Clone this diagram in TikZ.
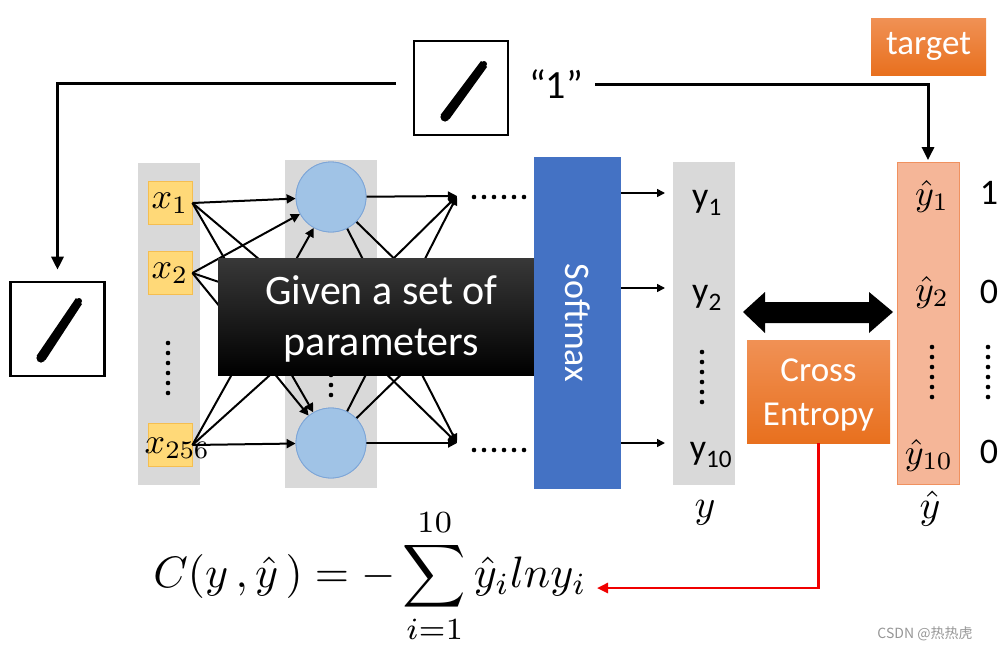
\documentclass[tikz,border=0pt]{standalone}
\usepackage{fontspec}
\setmainfont{Carlito}
\newfontfamily\cjkfont{Noto Sans CJK SC}
\usetikzlibrary{arrows.meta}
\definecolor{colgray}{RGB}{217,217,217}
\definecolor{xyellow}{RGB}{255,217,120}
\definecolor{xborder}{RGB}{245,190,80}
\definecolor{neublue}{RGB}{160,195,230}
\definecolor{neuedge}{RGB}{125,165,215}
\definecolor{smblue}{RGB}{68,114,196}
\definecolor{orgtop}{RGB}{240,145,85}
\definecolor{orgbot}{RGB}{232,112,30}
\definecolor{peach}{RGB}{245,182,152}
\definecolor{peachedge}{RGB}{240,145,95}
\definecolor{redline}{RGB}{240,0,0}
\definecolor{wmgray}{RGB}{150,150,150}
\begin{document}
\begin{tikzpicture}[x=1pt,y=-1pt,
  colbox/.style={fill=colgray, draw=none, inner sep=0, minimum width=62pt},
  xbox/.style={fill=xyellow, draw=xborder, line width=0.8pt, minimum width=44pt, minimum height=43pt, inner sep=0},
  neuron/.style={circle, fill=neublue, draw=neuedge, line width=0.8pt, minimum size=70pt, inner sep=0},
  net/.style={line width=2pt, -{Triangle[length=9pt,width=9pt]}},
  conn/.style={line width=3pt, -{Triangle[length=13pt,width=12pt]}},
  thinarr/.style={line width=1.6pt, -{Triangle[length=8pt,width=8pt]}},
  imgbox/.style={draw=black, line width=2.6pt, fill=white, minimum width=94pt, minimum height=94pt, inner sep=0},
  orgbox/.style={top color=orgtop, bottom color=orgbot, draw=none, inner sep=0},
  wtxt/.style={text=white, inner sep=0, align=center},
  math/.style={inner sep=0, scale=3.6},
  sans/.style={inner sep=0, font=\fontsize{36}{40}\selectfont}
]
\useasboundingbox (0,0) rectangle (1006,651);

% digit images
\node[imgbox] (img1) at (461,88) {};
\fill (484,64) circle (3pt) (445,117) circle (4.6pt);
\fill (481,61) -- (487,67) -- (449.5,119) -- (440.5,115) -- cycle;
\node[imgbox] (img2) at (57.5,329) {};
\fill (79,301) circle (3pt) (41,358) circle (4.6pt);
\fill (76,298) -- (82,304) -- (45.5,360) -- (36.5,356) -- cycle;
\draw[conn, shorten <=17pt, shorten >=11pt] ([yshift=5pt]img1.west) -- ([yshift=5pt]img1.west -| img2.north) -- (img2.north);

% target
\node[orgbox, minimum width=115pt, minimum height=57pt] (target) at (928.5,46.5) {};
\node[wtxt, font=\fontsize{35}{38}\selectfont] (targett) at (target) {target};
\node[sans, font=\fontsize{40}{44}\selectfont] (one) at (556,84) {“1”};

% columns
\node[colbox, minimum height=322pt] (incol) at (169,324) {};
\node[colbox, minimum width=92pt, minimum height=328pt] (hidcol) at (331,324) {};
\node[colbox, minimum height=323pt] (ycol) at (704,323.5) {};
\node[fill=peach, draw=peachedge, line width=0.8pt, inner sep=0, minimum width=62pt, minimum height=322pt] (yhat) at (928,323.5) {};

\draw[conn, shorten <=12pt, shorten >=2pt] (one.east) -- (one.east -| yhat.north) -- (yhat.north);

% input boxes
\node[xbox] (x1) at (170,203) {};
\node[math] at (x1) {$x_1$};
\node[xbox] (x2) at (170,273) {};
\node[math] at (x2) {$x_2$};
\node[xbox] (x3) at (170,445) {};
\node[math, anchor=west] at (144,448) {$x_{256}$};

% hidden
\coordinate (h2) at (331,320);
\coordinate (o1) at (457,196);
\coordinate (o2) at (457,320);
\coordinate (o3) at (457,443);
\node[neuron] (h1) at (331,197) {};
\node[neuron] (h3) at (331,443) {};
\foreach \i in {x1,x2,x3}{
  \foreach \j in {h1,h2,h3}{
    \draw[net] (\i.east) -- (\j);
  }
}
\foreach \j in {h1,h2,h3}{
  \foreach \k in {o1,o2,o3}{
    \draw[net] (\j) -- (\k);
  }
}
\node[neuron] at (h1) {};
\node[neuron] at (h3) {};

% dots
\foreach \d in {0,...,5}{
  \fill (168,343+10*\d) circle (2.3pt);
  \fill (331,345+10*\d) circle (2.3pt);
  \fill (474+10*\d,197) circle (2.3pt);
  \fill (474+10*\d,450) circle (2.3pt);
  \fill (702,352+10*\d) circle (2.3pt);
  \fill (932,347+10*\d) circle (2.3pt);
  \fill (988,347+10*\d) circle (2.3pt);
}

% black box
\node[top color=black!78, bottom color=black, inner sep=0, minimum width=327pt, minimum height=117pt] (given) at (381.5,316.5) {};
\node[wtxt, font=\fontsize{42}{51}\selectfont] at ([yshift=-2pt]given.center) {Given a set of\\parameters};

% softmax
\node[fill=smblue, inner sep=0, minimum width=87pt, minimum height=332pt] (sm) at (577.5,323) {};
\node[wtxt, rotate=-90, font=\fontsize{36}{38}\selectfont] at (sm) {Softmax};
\coordinate (ya1) at (665,193);
\coordinate (ya2) at (665,288);
\coordinate (ya3) at (665,443);
\draw[thinarr] (sm.east |- ya1) -- (ya1);
\draw[thinarr] (sm.east |- ya2) -- (ya2);
\draw[thinarr] (sm.east |- ya3) -- (ya3);

% y labels
\node[sans] (y1) at (707,203) {y\textsubscript{1}};
\node[sans] (y2) at (707,298) {y\textsubscript{2}};
\node[sans] (y10) at (711,455) {y\textsubscript{10}};
\node[math, scale=1.1] (ylab) at (705,513) {$y$};

% yhat labels
\node[math] (yh1) at (932,196) {$\hat y_1$};
\node[math] (yh2) at (932,292) {$\hat y_2$};
\node[math] (yh10) at (929,455) {$\hat y_{10}$};
\node[math, scale=1.1] (yhlab) at (930,509) {$\hat y$};
\node[sans] (v1) at (989,193) {1};
\node[sans] (v2) at (989,292) {0};
\node[sans] (v3) at (989,452) {0};

% double arrow
\fill (743,312) -- (765,292) -- (765,302) -- (869,302) -- (869,292) -- (893,312)
  -- (869,333) -- (869,323) -- (765,323) -- (765,333) -- cycle;

% cross entropy
\node[orgbox, minimum width=143pt, minimum height=103pt] (ce) at (818.5,391.5) {};
\node[wtxt, font=\fontsize{35}{44}\selectfont] at ([yshift=-3pt]ce.center) {Cross\\Entropy};

% formula
\node[inner sep=0, scale=4.4] (form) at (370,576)
  {$\displaystyle C(y\,,\hat y\,) = -\sum_{i=1}^{10}\hat y_i ln y_i$};
\coordinate (fa) at (597,588);
\draw[redline, line width=2.5pt, -{Triangle[length=11pt,width=10pt]}] (ce.south) |- (fa);

% watermark
\node[text=wmgray, inner sep=0, font=\cjkfont\fontsize{14}{16}\selectfont] (wm) at (925,634) {CSDN @热热虎};
\end{tikzpicture}
\end{document}
